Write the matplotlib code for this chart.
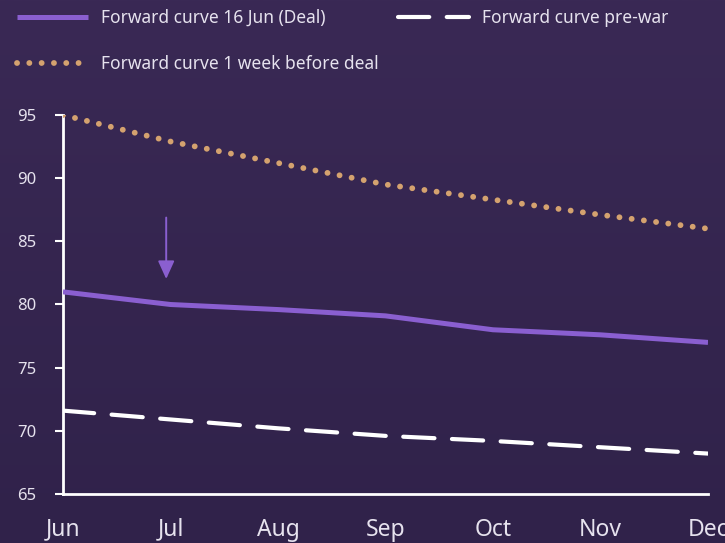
import numpy as np
import matplotlib
matplotlib.use('Agg')
import matplotlib.pyplot as plt
from matplotlib.colors import LinearSegmentedColormap

# data
months = ['Jun', 'Jul', 'Aug', 'Sep', 'Oct', 'Nov', 'Dec']
deal = [81.0, 80.0, 79.6, 79.1, 78.0, 77.6, 77.0]
pre_war = [71.6, 70.9, 70.2, 69.6, 69.2, 68.7, 68.2]
week_before = [95.0, 92.9, 91.2, 89.5, 88.3, 87.1, 86.0]

arrow_x = 0.96
arrow_from = 87.1
arrow_to = 81.8

plt.rcParams['font.family'] = ['Noto Sans', 'DejaVu Sans']
txt = '#e6e2ee'
purple = '#8a5fd0'
tan = '#d4a26f'

fig = plt.figure(figsize=(7.25, 5.43), dpi=100)

# background gradient
bg = fig.add_axes([0, 0, 1, 1], zorder=-10)
cmap = LinearSegmentedColormap.from_list('bg', ['#3a2955', '#30224a'])
bg.imshow(np.linspace(0, 1, 256).reshape(-1, 1), aspect='auto', cmap=cmap,
          extent=[0, 1, 0, 1])
bg.axis('off')

ax = fig.add_axes([63 / 725, 1 - 494 / 543, 645 / 725, 379 / 543])
ax.patch.set_alpha(0)

x = np.arange(len(months))
l1, = ax.plot(x, deal, color=purple, lw=3.6, solid_capstyle='butt',
              label='Forward curve 16 Jun (Deal)', zorder=3)
l2, = ax.plot(x, week_before, color=tan, lw=4.2, linestyle=(0, (0.01, 2.1)),
              dash_capstyle='round', label='Forward curve 1 week before deal', zorder=3)
l3, = ax.plot(x, pre_war, color='white', lw=3.0, linestyle=(0, (7.5, 4.2)),
              dash_capstyle='round', label='Forward curve pre-war', zorder=3)

ax.annotate('', xy=(arrow_x, arrow_to), xytext=(arrow_x, arrow_from),
            arrowprops=dict(arrowstyle='-|>,head_length=1.1,head_width=0.5',
                            color=purple, lw=1.4))

ax.set_xlim(0, 6)
ax.set_ylim(65, 95)
ax.set_xticks(x)
ax.set_xticklabels(months, fontsize=16.5, color=txt)
ax.set_yticks(range(65, 96, 5))
ax.tick_params(axis='y', colors='white', labelcolor=txt, labelsize=12,
               length=6, width=1.5, pad=13)
ax.tick_params(axis='x', length=0, pad=17)
for s in ['top', 'right']:
    ax.spines[s].set_visible(False)
for s in ['left', 'bottom']:
    ax.spines[s].set_color('white')
    ax.spines[s].set_linewidth(2)
ax.get_xticklabels()[-1].set_clip_on(False)

leg = fig.legend([l1, l2, l3], [l1.get_label(), l2.get_label(), l3.get_label()],
                 loc='upper left', bbox_to_anchor=(17 / 725, 1 - 9 / 543),
                 ncol=2, frameon=False, fontsize=12.5, handlelength=4.1,
                 borderpad=0, borderaxespad=0,
                 columnspacing=1.1, labelspacing=1.6, handletextpad=0.75)
for t in leg.get_texts():
    t.set_color(txt)

fig.savefig('out.png', dpi=100)
